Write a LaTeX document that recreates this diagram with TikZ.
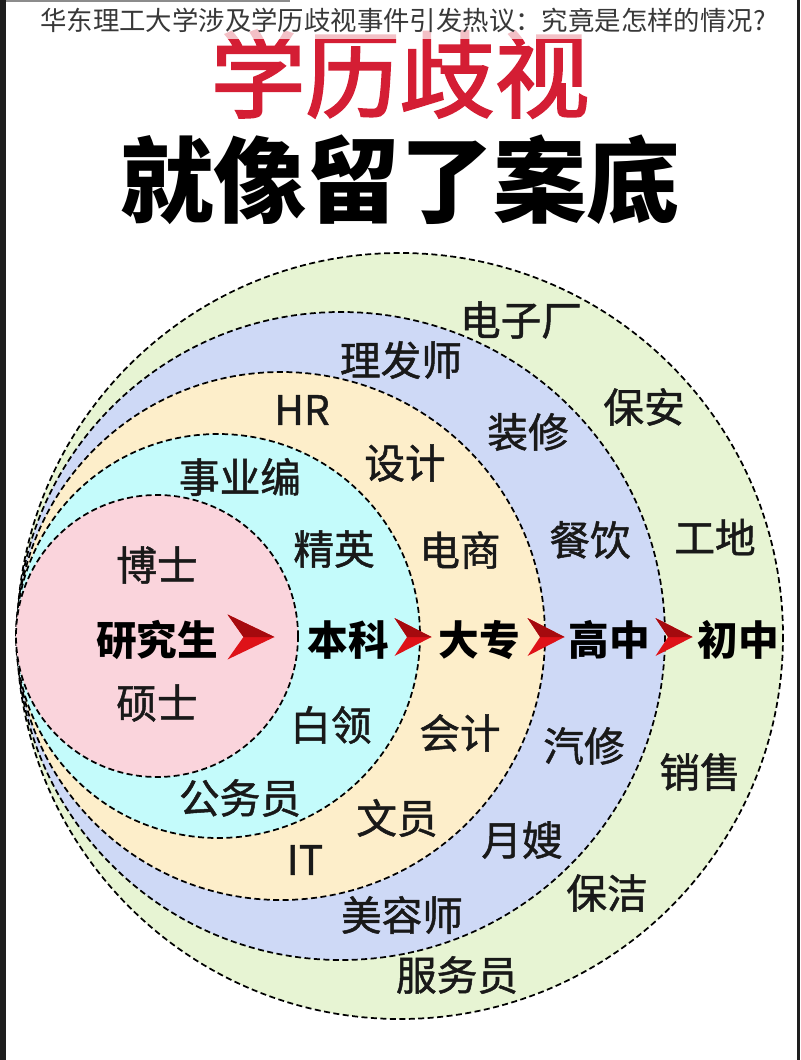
\documentclass[tikz,border=0pt]{standalone}
\usepackage{fontspec}
\setmainfont{Noto Sans CJK SC}
\newfontfamily\medf{Noto Sans CJK SC}[FakeBold=1.2]
\newfontfamily\redf{Noto Sans CJK SC}[FakeBold=2.2]
\usetikzlibrary{calc}
\definecolor{cpink}{RGB}{250,212,220}
\definecolor{ccyan}{RGB}{196,251,251}
\definecolor{cyell}{RGB}{253,238,202}
\definecolor{cblue}{RGB}{206,217,246}
\definecolor{cgreen}{RGB}{231,244,211}
\definecolor{ctitle}{RGB}{212,30,52}
\definecolor{chevA}{RGB}{222,18,24}
\definecolor{chevB}{RGB}{165,10,14}
\definecolor{cframe}{RGB}{30,30,30}
\tikzset{
  ring/.style={draw=black,line width=1.3pt,dash pattern=on 4.5pt off 2.6pt},
  lbl/.style={inner sep=0pt,font=\medf\fontsize{30.5}{31}\selectfont,text=black!90},
  lvl/.style={inner sep=0pt,font=\fontsize{30.5}{31}\selectfont\bfseries,text=black},
  chev/.pic={
    \fill[chevA] (-0.5*\pgfkeysvalueof{/tikz/cw},-0.5*\pgfkeysvalueof{/tikz/ch}) -- (0.5*\pgfkeysvalueof{/tikz/cw},0) -- (-0.5*\pgfkeysvalueof{/tikz/cw},0.5*\pgfkeysvalueof{/tikz/ch}) -- (-0.5*\pgfkeysvalueof{/tikz/cw}+0.34*\pgfkeysvalueof{/tikz/cw},0) -- cycle;
    \fill[chevB] (0.5*\pgfkeysvalueof{/tikz/cw},0) -- (-0.5*\pgfkeysvalueof{/tikz/cw},-0.5*\pgfkeysvalueof{/tikz/ch}) -- (-0.5*\pgfkeysvalueof{/tikz/cw}+0.34*\pgfkeysvalueof{/tikz/cw},0) -- cycle;
  },
  cw/.initial=40, ch/.initial=40
}
\begin{document}
\begin{tikzpicture}[x=0.75pt,y=-0.75pt]
\useasboundingbox (0,0) rectangle (800,1060);
\fill[white] (0,0) rectangle (800,1060);
% headings
\node[inner sep=0pt,font=\redf\fontsize{71}{72}\selectfont,text=ctitle] (h1) at (400,74) {学历歧视};
\fill[white,opacity=0.72] (5,0) rectangle (798,39);
\node[inner sep=0pt,font=\fontsize{19.8}{21}\selectfont,text=black!78] (h0) at (403,20) {华东理工大学涉及学历歧视事件引发热议：究竟是怎样的情况?};
\node[inner sep=0pt,font=\fontsize{70}{71}\selectfont\bfseries,text=black] (h2) at (400,180) {就像留了案底};
% rings
\filldraw[ring,fill=cgreen] (400,636) circle (383);
\filldraw[ring,fill=cblue]  (341,636) circle (324);
\filldraw[ring,fill=cyell]  (281,636) circle (264);
\filldraw[ring,fill=ccyan]  (218,636) circle (202);
\filldraw[ring,fill=cpink]  (157,636) circle (141);
% level labels
\node[lvl] (yjs) at (157,640) {研究生};
\node[lvl] (bk)  at (348,640) {本科};
\node[lvl] (dz)  at (479,640) {大专};
\node[lvl] (gz)  at (609,640) {高中};
\node[lvl] (cz)  at (738,640) {初中};
% chevrons
\pic[cw=47,ch=45] (a1) at (251,637) {chev};
\pic[cw=37,ch=38] (a2) at (413,637) {chev};
\pic[cw=37,ch=38] (a3) at (546,637) {chev};
\pic[cw=37,ch=38] (a4) at (674,637) {chev};
% jobs
\node[lbl] (n1) at (157,565) {博士};
\node[lbl] (n2) at (157,703) {硕士};
\node[lbl] (n3) at (240,477) {事业编};
\node[lbl] (n4) at (334,549) {精英};
\node[lbl] (n5) at (331,725) {白领};
\node[lbl] (n6) at (240,798) {公务员};
\node[lbl] (n7) at (302,410) {HR};
\node[lbl] (n8) at (405,463) {设计};
\node[lbl] (n9) at (460,550) {电商};
\node[lbl] (n10) at (460,733) {会计};
\node[lbl] (n11) at (397,818) {文员};
\node[lbl] (n12) at (305,860) {IT};
\node[lbl] (n13) at (401,360) {理发师};
\node[lbl] (n14) at (528,432) {装修};
\node[lbl] (n15) at (590,540) {餐饮};
\node[lbl] (n16) at (584,746) {汽修};
\node[lbl] (n17) at (522,840) {月嫂};
\node[lbl] (n18) at (402,915) {美容师};
\node[lbl] (n19) at (521,320) {电子厂};
\node[lbl] (n20) at (644,407) {保安};
\node[lbl] (n21) at (715,537) {工地};
\node[lbl] (n22) at (700,772) {销售};
\node[lbl] (n23) at (607,893) {保洁};
\node[lbl] (n24) at (457,975) {服务员};
% frame
\fill[cframe] (0,0) rectangle (6,1060);
\fill[cframe] (797,0) rectangle (800,1060);
\fill[black!45] (6,0) rectangle (290,2);
\end{tikzpicture}
\end{document}
